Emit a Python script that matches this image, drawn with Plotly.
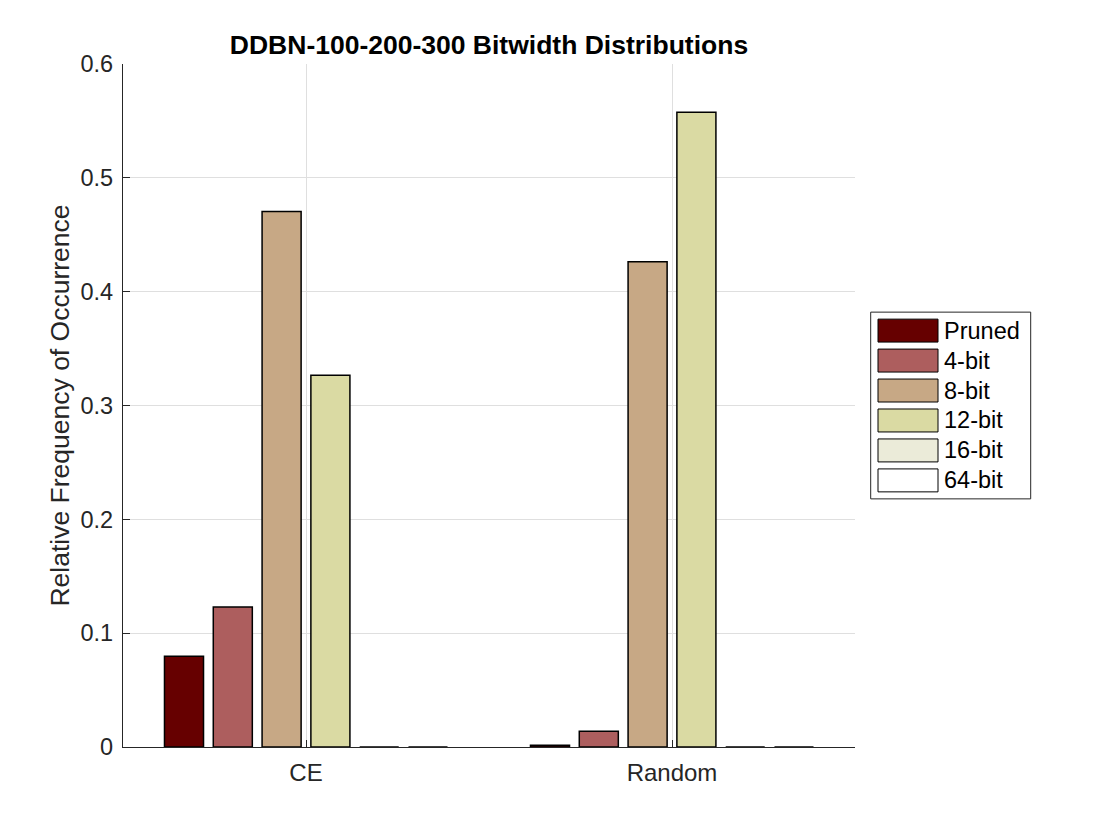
import plotly.graph_objects as go

# ---- data ----
categories = ["CE", "Random"]
series_names = ["Pruned", "4-bit", "8-bit", "12-bit", "16-bit", "64-bit"]
pruned = [0.0797, 0.0016]
bit4 = [0.1230, 0.0139]
bit8 = [0.4704, 0.4262]
bit12 = [0.3265, 0.5577]
bit16 = [0.0, 0.0]
bit64 = [0.0, 0.0]
series_values = [pruned, bit4, bit8, bit12, bit16, bit64]
y_ticks = [0, 0.1, 0.2, 0.3, 0.4, 0.5, 0.6]
y_tick_labels = ["0", "0.1", "0.2", "0.3", "0.4", "0.5", "0.6"]

# ---- style ----
colors = ["#660000", "#AD5E5E", "#C7A885", "#DADAA3", "#EBEBD9", "#FFFFFF"]
FONT = "Helvetica, Liberation Sans, Arial, sans-serif"
W, H = 1120, 840
ML, MR, MT, MB = 123, 265, 63.5, 92.5
PW, PH = W - ML - MR, H - MT - MB

x_pos = [1, 2]

fig = go.Figure()
for name, vals, col in zip(series_names, series_values, colors):
    fig.add_trace(go.Bar(
        x=x_pos, y=vals, name=name,
        marker=dict(color=col, line=dict(color="black", width=1.5)),
        showlegend=False,
    ))

# custom legend (large swatches, like the reference)
shapes = []
annotations = []
def py(ypx):
    return (H - MB - ypx) / PH
def px(xpx):
    return (xpx - ML) / PW

shapes.append(dict(type="rect", xref="paper", yref="paper",
                   x0=px(870.7), x1=px(1030.7), y0=py(499), y1=py(312),
                   line=dict(color="#262626", width=1), fillcolor="white"))
for i, (name, col) in enumerate(zip(series_names, colors)):
    cy = 330.5 + 30 * i
    shapes.append(dict(type="rect", xref="paper", yref="paper",
                       x0=px(878), x1=px(938), y0=py(cy + 11.5), y1=py(cy - 11.5),
                       line=dict(color="black", width=1), fillcolor=col))
    annotations.append(dict(xref="paper", yref="paper", x=px(942), y=py(cy),
                            xanchor="left", yanchor="middle", showarrow=False,
                            text=name, font=dict(family=FONT, size=23.5, color="black")))

fig.update_layout(
    width=W, height=H,
    margin=dict(l=ML, r=MR, t=MT, b=MB, autoexpand=False),
    paper_bgcolor="white", plot_bgcolor="white",
    barmode="group", bargap=0.2, bargroupgap=0.2,
    showlegend=False,
    title=dict(text="<b>DDBN-100-200-300 Bitwidth Distributions</b>",
               x=(ML + PW / 2) / W, xanchor="center",
               y=1 - 45 / H, yanchor="middle", yref="container",
               font=dict(family=FONT, size=26.5, color="black")),
    shapes=shapes,
    annotations=annotations,
)
fig.update_xaxes(
    range=[0.5, 2.5], tickvals=x_pos, ticktext=categories,
    showgrid=True, gridcolor="#DFDFDF", gridwidth=1,
    showline=True, linecolor="#262626", linewidth=1.2,
    ticks="inside", ticklen=7, tickcolor="#262626",
    tickfont=dict(family=FONT, size=24, color="#262626"),
    ticklabelstandoff=4, zeroline=False,
)
fig.update_yaxes(
    range=[0, 0.6], tickvals=y_ticks, ticktext=y_tick_labels,
    showgrid=True, gridcolor="#DFDFDF", gridwidth=1,
    showline=True, linecolor="#262626", linewidth=1.2,
    ticks="inside", ticklen=7, tickcolor="#262626",
    tickfont=dict(family=FONT, size=23.5, color="#262626"),
    ticklabelstandoff=4, zeroline=False,
    title=dict(text="Relative Frequency of Occurrence", standoff=3,
               font=dict(family=FONT, size=26.5, color="#262626")),
)

fig.write_html("out.html")
